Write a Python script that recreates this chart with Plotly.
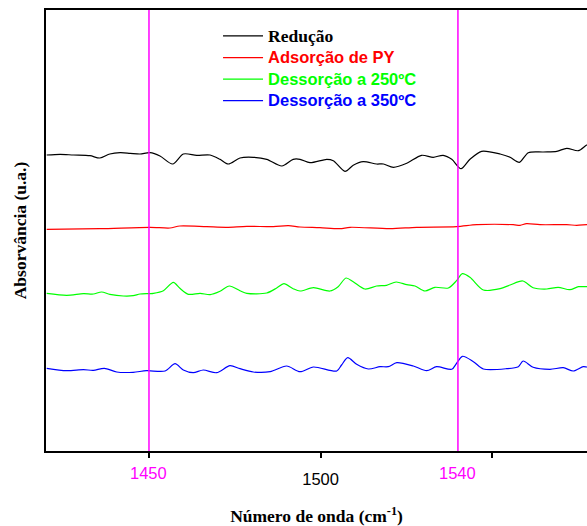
import plotly.graph_objects as go

# ---- data (wavenumber cm-1, absorbance a.u.) ----
red_x = [1420.2, 1424.1, 1428.0, 1432.8, 1435.7, 1438.6, 1441.6, 1444.5, 1447.4, 1450.3,
         1453.2, 1456.9, 1460.0, 1463.9, 1467.8, 1470.7, 1473.1, 1476.5, 1480.4, 1484.3,
         1488.7, 1492.0, 1494.0, 1496.9, 1501.8, 1503.7, 1507.1, 1509.5, 1512.4, 1516.3,
         1518.3, 1521.2, 1525.1, 1529.4, 1532.8, 1535.7, 1538.2, 1540.9, 1543.5, 1546.9,
         1552.3, 1555.2, 1557.9, 1560.5, 1564.9, 1568.8, 1571.7, 1575.1, 1577.5, 1579.0]
reducao_y = [2.960, 2.967, 2.960, 2.953, 2.930, 2.970, 2.983, 2.977, 2.970, 2.983,
             2.950, 2.870, 2.970, 2.957, 2.960, 2.917, 2.870, 2.930, 2.937, 2.917,
             2.850, 2.917, 2.917, 2.883, 2.917, 2.903, 2.797, 2.857, 2.893, 2.870,
             2.870, 2.837, 2.877, 2.957, 2.937, 2.957, 2.917, 2.823, 2.917, 2.997,
             2.970, 2.937, 2.887, 2.983, 2.990, 2.997, 3.027, 3.003, 3.060, 3.080]

ads_x = [1420.2, 1435.7, 1450.3, 1456.1, 1459.0, 1466.8, 1472.6, 1478.5, 1486.2, 1490.6,
         1494.0, 1499.8, 1505.6, 1508.6, 1520.2, 1528.0, 1539.6, 1545.5, 1556.1, 1558.1,
         1560.0, 1563.9, 1571.7, 1574.6, 1577.5, 1579.0]
ads_y = [2.217, 2.223, 2.237, 2.230, 2.250, 2.243, 2.237, 2.247, 2.243, 2.253,
         2.240, 2.233, 2.223, 2.237, 2.223, 2.237, 2.243, 2.263, 2.263, 2.257,
         2.273, 2.263, 2.263, 2.257, 2.263, 2.263]

d250_x = [1420.2, 1426.0, 1430.9, 1433.8, 1436.2, 1438.6, 1442.5, 1445.4, 1447.4, 1451.3,
          1454.2, 1457.1, 1459.0, 1461.5, 1464.9, 1467.8, 1470.7, 1473.4, 1476.5, 1478.5,
          1484.3, 1487.2, 1489.3, 1492.0, 1494.0, 1497.9, 1502.7, 1505.1, 1507.4, 1509.5,
          1512.9, 1516.3, 1519.2, 1522.0, 1525.1, 1527.5, 1530.4, 1533.3, 1537.2, 1539.6,
          1541.3, 1543.5, 1547.4, 1552.3, 1555.2, 1558.9, 1561.9, 1565.9, 1569.2, 1572.6,
          1575.1, 1577.5, 1579.0]
d250_y = [1.577, 1.557, 1.573, 1.570, 1.590, 1.567, 1.550, 1.553, 1.570, 1.577,
          1.603, 1.687, 1.627, 1.567, 1.577, 1.563, 1.597, 1.650, 1.603, 1.577,
          1.580, 1.630, 1.673, 1.623, 1.600, 1.633, 1.600, 1.643, 1.730, 1.693,
          1.620, 1.650, 1.657, 1.690, 1.663, 1.650, 1.600, 1.637, 1.630, 1.703,
          1.773, 1.737, 1.610, 1.623, 1.660, 1.700, 1.633, 1.620, 1.637, 1.613,
          1.643, 1.643, 1.640]

d350_x = [1420.2, 1426.0, 1430.9, 1433.8, 1437.0, 1440.6, 1445.4, 1449.3, 1454.7, 1457.6,
          1460.0, 1462.9, 1465.8, 1469.7, 1473.6, 1476.5, 1480.4, 1485.3, 1490.1, 1494.0,
          1497.9, 1504.7, 1506.1, 1507.9, 1510.5, 1513.9, 1517.3, 1519.7, 1522.2, 1527.0,
          1530.9, 1533.8, 1538.2, 1539.6, 1541.3, 1544.5, 1547.4, 1554.2, 1557.6, 1559.0,
          1561.9, 1566.8, 1570.7, 1573.6, 1576.5, 1577.5, 1579.0]
d350_y = [0.827, 0.803, 0.813, 0.807, 0.827, 0.790, 0.787, 0.803, 0.800, 0.873,
          0.810, 0.783, 0.810, 0.783, 0.853, 0.823, 0.790, 0.793, 0.850, 0.793,
          0.840, 0.800, 0.860, 0.933, 0.867, 0.820, 0.843, 0.843, 0.883, 0.850,
          0.803, 0.843, 0.817, 0.877, 0.947, 0.893, 0.820, 0.823, 0.843, 0.900,
          0.837, 0.817, 0.833, 0.800, 0.843, 0.840, 0.835]

series_names = ["Redução", "Adsorção de PY", "Dessorção a 250ºC", "Dessorção a 350ºC"]
series_colors = ["#000000", "#ff0000", "#00ff00", "#0000ff"]
marker_lines = [1450, 1540]
major_ticks = [1500]
minor_ticks = [1450, 1550]

SERIF = "Liberation Serif"
SANS = "Liberation Sans"

fig = go.Figure()
data = [(red_x, reducao_y), (ads_x, ads_y), (d250_x, d250_y), (d350_x, d350_y)]
for i, ((xs, ys), nm, col) in enumerate(zip(data, series_names, series_colors)):
    fam = SERIF if i == 0 else SANS
    size = 17.5 if i == 0 else 16.5
    label = f'<span style="font-family:{fam};font-size:{size}px;color:{col}"><b>{nm}</b></span>'
    fig.add_trace(go.Scatter(x=xs, y=ys, mode="lines", name=label,
                             line=dict(color=col, width=1.2, shape="spline", smoothing=0.8)))

for v in marker_lines:
    fig.add_shape(type="line", xref="x", yref="paper", x0=v, x1=v, y0=0, y1=1,
                  line=dict(color="#ff00ff", width=1.5))
    fig.add_annotation(x=v, xref="x", y=-0.05, yref="paper", text=str(v), showarrow=False,
                       font=dict(family=SANS, size=16.5, color="#ff00ff"), yanchor="middle")

fig.update_layout(
    width=587, height=526,
    margin=dict(l=46, r=0, t=10, b=75),
    plot_bgcolor="white", paper_bgcolor="white",
    showlegend=True,
    legend=dict(x=0.318, y=0.977, xanchor="left", yanchor="top",
                bgcolor="rgba(0,0,0,0)", font=dict(family=SANS, size=14.3, color="black"),
                tracegroupgap=0, itemwidth=40),
    xaxis=dict(range=[1420, 1577.6], showgrid=False, zeroline=False,
               showline=True, linecolor="black", linewidth=2, mirror=True,
               ticks="outside", ticklen=5, tickwidth=1.5, tickcolor="black",
               tickvals=major_ticks, ticktext=[str(t) for t in major_ticks],
               ticklabelstandoff=7,
               minor=dict(tickvals=minor_ticks, ticks="outside", ticklen=5,
                          tickwidth=1.5, tickcolor="black", showgrid=False),
               tickfont=dict(family=SANS, size=16.5, color="black"),
               title=dict(text="<b>Número de onda (cm<sup>-1</sup>)</b>",
                          font=dict(family=SERIF, size=17.5, color="black"), standoff=24)),
    yaxis=dict(range=[0, 4.41], showgrid=False, zeroline=False,
               showline=True, linecolor="black", linewidth=2,
               ticks="", showticklabels=False,
               title=dict(text="<b>Absorvância (u.a.)</b>",
                          font=dict(family=SERIF, size=17.5, color="black"), standoff=13)),
)

fig.write_html("out.html")
